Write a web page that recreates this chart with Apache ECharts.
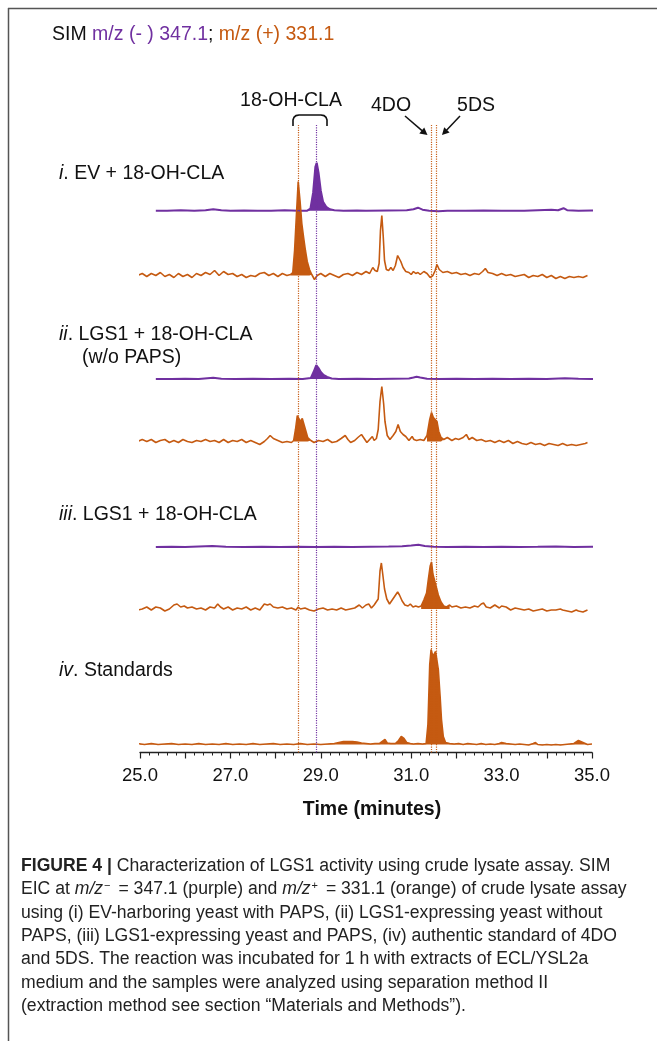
<!DOCTYPE html>
<html><head><meta charset="utf-8">
<script src="https://cdn.jsdelivr.net/npm/echarts@6/dist/echarts.min.js"></script>
<style>html,body{margin:0;padding:0;background:#fff}#c{width:657px;height:1041px}</style>
</head><body><div id="c"></div>
<script>
// ---------------- DATA ----------------
const timeTicks = [25.0, 27.0, 29.0, 31.0, 33.0, 35.0];
const markerTimes = [28.5, 28.9, 31.45, 31.55];   // 18-OH-CLA (+), 18-OH-CLA (-), 4DO, 5DS
const traceLabels = ['i. EV + 18-OH-CLA', 'ii. LGS1 + 18-OH-CLA', '(w/o PAPS)', 'iii. LGS1 + 18-OH-CLA', 'iv. Standards'];
const compoundLabels = ['18-OH-CLA', '4DO', '5DS'];

// [time (min), relative intensity]
const purpleI = [[25.35,0],[25.6,0],[25.9,0.5],[26.2,0],[26.45,0.5],[26.62,1.5],[26.8,0.5],[27.0,0],[27.3,0.3],[27.6,0],[27.9,0],[28.2,0.5],[28.5,0],[28.7,0],[28.77,2],[28.83,18],[28.88,44],[28.91,48],[28.95,38],[29.0,20],[29.05,9],[29.12,4],[29.2,1.5],[29.3,0.5],[29.5,0],[29.8,0.3],[30.0,0],[30.5,0.3],[30.9,0.5],[31.05,1.5],[31.15,3],[31.25,1],[31.4,0],[31.6,-0.5],[31.8,0],[32.2,0],[32.6,0.3],[33.0,0],[33.5,0],[33.8,0.5],[34.1,1],[34.25,0.5],[34.37,2.5],[34.45,0.5],[34.7,0],[35.0,0.3],[35.34,0]];
const orangeI = [[24.95,0],[25.05,2],[25.15,-1],[25.25,2],[25.35,0],[25.45,3],[25.55,-1],[25.65,1],[25.75,-2],[25.85,2],[25.95,-1],[26.05,1],[26.15,-2],[26.25,2],[26.35,0],[26.45,3],[26.55,1],[26.65,5],[26.75,0],[26.85,4],[26.95,1],[27.05,2],[27.15,-1],[27.25,1],[27.35,-2],[27.45,0],[27.55,-1],[27.65,2],[27.75,3],[27.85,0],[27.95,2],[28.05,-1],[28.15,2],[28.25,0],[28.33,1],[28.38,3],[28.42,25],[28.46,60],[28.5,94],[28.54,75],[28.58,52],[28.62,38],[28.66,25],[28.7,14],[28.75,6],[28.8,1],[28.86,-4],[28.92,0],[29.0,2],[29.1,-1],[29.2,2],[29.3,0],[29.4,-2],[29.5,1],[29.6,2],[29.7,0],[29.8,3],[29.9,1],[30.0,4],[30.08,2],[30.15,8],[30.2,5],[30.25,4],[30.29,12],[30.32,45],[30.35,60],[30.38,40],[30.41,15],[30.45,6],[30.5,5],[30.55,8],[30.6,5],[30.65,10],[30.7,20],[30.73,21],[30.77,14],[30.82,8],[30.88,4],[30.95,3],[31.0,1],[31.05,4],[31.1,2],[31.15,3],[31.2,1],[31.28,4],[31.35,2],[31.42,-2],[31.48,0],[31.53,5],[31.57,11],[31.62,6],[31.7,3],[31.8,4],[31.9,2],[32.0,3],[32.1,1],[32.2,2],[32.3,0],[32.4,2],[32.5,1],[32.58,4],[32.64,7],[32.7,3],[32.8,2],[32.9,0],[33.0,2],[33.1,0],[33.2,1],[33.3,-1],[33.4,0],[33.5,1],[33.6,-2],[33.7,0],[33.8,-1],[33.9,1],[34.0,-2],[34.1,0],[34.2,-3],[34.3,-1],[34.4,-3],[34.5,-1],[34.6,-2],[34.7,-1],[34.8,-2],[34.9,0]];
const purpleII = [[25.35,0],[25.7,0],[26.0,0.3],[26.3,0],[26.62,1.3],[26.8,0.3],[27.1,0],[27.5,0.2],[27.9,0],[28.3,0.3],[28.6,0],[28.78,1],[28.84,7],[28.9,14],[28.95,11],[29.0,7],[29.06,4],[29.14,2],[29.24,0.5],[29.4,0],[29.8,0.2],[30.2,0],[30.6,0.3],[30.95,0.5],[31.05,1.5],[31.12,2.3],[31.2,1.5],[31.35,0.3],[31.6,0],[32.0,0.3],[32.4,0],[32.8,0.2],[33.2,0],[33.6,0.3],[34.0,0],[34.4,0.8],[34.7,0.2],[35.0,0],[35.34,0]];
const orangeII = [[24.95,0],[25.05,2],[25.15,0],[25.25,2],[25.35,-1],[25.45,1],[25.55,2],[25.65,-1],[25.75,1],[25.85,-1],[25.95,2],[26.05,0],[26.15,-1],[26.25,1],[26.35,0],[26.45,2],[26.55,0],[26.65,1],[26.75,-1],[26.85,2],[26.95,-1],[27.05,1],[27.15,0],[27.25,2],[27.35,-1],[27.45,1],[27.55,-1],[27.65,-3],[27.75,0],[27.82,3],[27.88,6],[27.95,3],[28.05,1],[28.15,-1],[28.25,0],[28.35,-1],[28.4,1],[28.44,12],[28.48,26],[28.51,28],[28.55,20],[28.59,23],[28.62,22],[28.66,12],[28.71,4],[28.78,1],[28.85,-1],[28.95,1],[29.05,0],[29.15,2],[29.25,-1],[29.35,0],[29.45,3],[29.54,6],[29.6,2],[29.66,-1],[29.75,1],[29.82,4],[29.9,7],[29.96,3],[30.02,-1],[30.08,2],[30.14,5],[30.18,1],[30.23,3],[30.27,12],[30.31,40],[30.35,55],[30.39,38],[30.42,20],[30.47,6],[30.53,2],[30.6,6],[30.66,10],[30.71,17],[30.76,10],[30.82,7],[30.88,5],[30.95,1],[31.02,5],[31.06,2],[31.12,1],[31.2,2],[31.28,1],[31.35,6],[31.41,22],[31.45,29],[31.49,24],[31.53,23],[31.57,20],[31.61,10],[31.66,4],[31.72,2],[31.8,4],[31.9,1],[31.98,3],[32.05,2],[32.15,4],[32.22,7],[32.28,2],[32.35,4],[32.45,1],[32.55,2],[32.65,0],[32.75,1],[32.85,-1],[32.95,1],[33.05,-1],[33.15,1],[33.25,-2],[33.35,0],[33.45,-2],[33.55,-3],[33.65,-1],[33.75,-3],[33.85,-2],[33.95,-4],[34.05,-2],[34.15,-3],[34.25,-4],[34.35,-2],[34.45,-4],[34.55,-3],[34.65,-4],[34.75,-3],[34.85,-2],[34.9,-1]];
const purpleIII = [[25.35,0],[25.7,0.3],[26.0,0],[26.3,0.5],[26.6,1],[26.9,0.3],[27.3,0],[27.7,0.2],[28.1,0],[28.5,0.3],[28.9,0],[29.3,0.2],[29.7,0],[30.1,0.3],[30.5,0.5],[30.8,0.8],[31.0,1.5],[31.16,2.3],[31.3,1],[31.5,0.3],[31.8,0],[32.2,0.2],[32.6,0],[33.0,0.3],[33.4,0],[33.8,0.2],[34.2,0.5],[34.6,0],[35.0,0.2],[35.34,0]];
const orangeIII = [[24.95,-1],[25.05,0],[25.15,2],[25.25,-1],[25.35,2],[25.45,1],[25.55,-2],[25.65,0],[25.75,4],[25.82,5],[25.9,2],[25.98,3],[26.05,1],[26.15,2],[26.25,0],[26.35,1],[26.45,-1],[26.55,2],[26.65,1],[26.72,5],[26.78,2],[26.85,0],[26.95,2],[27.05,-1],[27.15,1],[27.25,0],[27.35,2],[27.45,-1],[27.55,1],[27.65,-1],[27.75,5],[27.82,4],[27.88,5],[27.95,2],[28.05,1],[28.15,2],[28.25,0],[28.35,1],[28.45,-1],[28.5,2],[28.55,0],[28.65,1],[28.75,-1],[28.85,-2],[28.95,0],[29.05,1],[29.15,-1],[29.25,0],[29.35,-1],[29.45,1],[29.55,-1],[29.65,0],[29.75,1],[29.85,4],[29.92,1],[30.0,4],[30.06,5],[30.12,1],[30.18,4],[30.22,2],[30.27,10],[30.31,38],[30.34,46],[30.37,35],[30.41,20],[30.46,10],[30.52,5],[30.58,9],[30.64,13],[30.7,17],[30.74,14],[30.8,8],[30.86,4],[30.93,3],[30.98,5],[31.04,2],[31.1,3],[31.16,2],[31.22,3],[31.28,9],[31.34,16],[31.38,30],[31.42,43],[31.45,47],[31.48,35],[31.52,28],[31.56,21],[31.6,14],[31.66,7],[31.72,3],[31.78,2],[31.85,4],[31.9,2],[32.0,3],[32.1,1],[32.2,2],[32.3,1],[32.4,3],[32.48,2],[32.55,5],[32.6,6],[32.66,2],[32.75,1],[32.85,4],[32.95,1],[33.0,3],[33.1,2],[33.2,-1],[33.3,1],[33.4,0],[33.5,-1],[33.6,0],[33.7,-2],[33.8,-1],[33.9,0],[34.0,-2],[34.1,-1],[34.2,-1],[34.3,0],[34.35,-1],[34.45,-2],[34.55,-3],[34.65,-1],[34.7,-2],[34.8,-3],[34.9,-1]];
const orangeIV = [[24.95,1],[25.1,0],[25.25,1],[25.4,0],[25.55,0.5],[25.7,1],[25.85,0],[26.0,0.5],[26.15,0],[26.3,1],[26.45,0],[26.6,0.5],[26.75,0],[26.9,1],[27.05,0],[27.2,0.5],[27.35,0],[27.5,1],[27.65,0],[27.8,0.5],[27.95,1],[28.1,0],[28.25,0.5],[28.4,0],[28.55,1],[28.7,0],[28.85,0.5],[29.0,0],[29.15,0.5],[29.3,1],[29.4,2],[29.5,3],[29.6,3],[29.7,3],[29.8,2.5],[29.9,1.5],[30.0,1],[30.1,0.5],[30.2,1],[30.3,1],[30.36,3],[30.42,5],[30.47,1.5],[30.55,1],[30.65,1],[30.72,4],[30.78,8],[30.84,6],[30.9,2],[30.98,1],[31.05,0.5],[31.15,1],[31.25,0.5],[31.33,1],[31.37,20],[31.41,80],[31.44,95],[31.48,88],[31.51,87.5],[31.54,93],[31.57,92],[31.6,75],[31.64,48],[31.67,25],[31.71,8],[31.76,2],[31.85,1],[31.95,0.5],[32.05,1],[32.15,0],[32.25,1],[32.35,0.5],[32.45,0],[32.55,1],[32.65,0],[32.75,0.5],[32.85,0],[32.95,1],[33.0,2],[33.04,3.5],[33.1,1],[33.2,0.5],[33.3,0],[33.4,0.5],[33.5,0],[33.6,-0.5],[33.7,1],[33.75,2],[33.8,0],[33.9,-0.5],[34.0,0],[34.1,-0.5],[34.2,0],[34.3,-0.5],[34.4,0],[34.5,0.5],[34.6,1],[34.7,4],[34.74,6],[34.8,2],[34.9,0],[35.0,0.5]];

// peak windows that are shaded
const fillPurpleI = [[28.7, 29.3]];
const fillOrangeI = [[28.33, 28.8]];
const fillPurpleII = [[28.7, 29.3]];
const fillOrangeII = [[28.4, 28.78], [31.35, 31.72]];
const fillPurpleIII = [];
const fillOrangeIII = [[31.22, 31.85]];
const fillOrangeIV = [[24.9, 35.1]];

// ---------------- STYLE / LAYOUT ----------------
const PURPLE = '#7030A0', ORANGE = '#C55A11';
const FONT = '"Liberation Sans", Arial, Helvetica, sans-serif';
const PLOT_LEFT = 140, PLOT_W = 452;

const traces = [
  {data: purpleI,  fills: fillPurpleI,  color: PURPLE, base: 210.7, w: 2},
  {data: orangeI,  fills: fillOrangeI,  color: ORANGE, base: 275.5, w: 1.6},
  {data: purpleII, fills: fillPurpleII, color: PURPLE, base: 379,   w: 2},
  {data: orangeII, fills: fillOrangeII, color: ORANGE, base: 441.5, w: 1.6},
  {data: purpleIII,fills: fillPurpleIII,color: PURPLE, base: 547,   w: 2},
  {data: orangeIII,fills: fillOrangeIII,color: ORANGE, base: 609,   w: 1.6},
  {data: orangeIV, fills: fillOrangeIV, color: ORANGE, base: 744.5, w: 1.6}
];
const markerColors = [ORANGE, PURPLE, ORANGE, ORANGE];

const grids = [{left: PLOT_LEFT, width: PLOT_W, top: 125, height: 627.5}];
const xAxes = [{
  gridIndex: 0, type: 'value', min: 25, max: 35, interval: 1,
  axisLine: {show: true, onZero: false, lineStyle: {color: '#222', width: 1.3}},
  axisTick: {show: true, length: 6, lineStyle: {color: '#222', width: 1.2}},
  minorTick: {show: true, splitNumber: 5, length: 3, lineStyle: {color: '#222', width: 1}},
  splitLine: {show: false}, minorSplitLine: {show: false},
  axisLabel: {margin: 14, fontSize: 18.5, color: '#111', fontFamily: FONT,
    formatter: v => timeTicks.some(t => Math.abs(t - v) < 1e-6) ? v.toFixed(1) : ''}
}];
const yAxes = [{gridIndex: 0, type: 'value', min: 0, max: 1, show: false}];
const series = [{
  type: 'line', xAxisIndex: 0, yAxisIndex: 0, data: [[25, -5]], symbol: 'none', silent: true,
  lineStyle: {opacity: 0}, z: 1,
  markLine: {symbol: ['none', 'none'], silent: true, animation: false, label: {show: false},
    data: markerTimes.map((t, i) => ({xAxis: t, lineStyle: {color: markerColors[i], type: 'dotted', width: 1.2, opacity: 0.95}}))}
}];

traces.forEach((tr, k) => {
  const gi = k + 1;
  grids.push({left: PLOT_LEFT, width: PLOT_W, top: tr.base - 100, height: 110});
  xAxes.push({gridIndex: gi, type: 'value', min: 25, max: 35, show: false});
  yAxes.push({gridIndex: gi, type: 'value', min: -10, max: 100, show: false});
  tr.fills.forEach(r => {
    series.push({type: 'line', xAxisIndex: gi, yAxisIndex: gi, clip: false, silent: true, symbol: 'none',
      data: tr.data.filter(p => p[0] >= r[0] && p[0] <= r[1]),
      lineStyle: {width: 0}, areaStyle: {color: tr.color, opacity: 1, origin: 0}, z: 2});
  });
  series.push({type: 'line', xAxisIndex: gi, yAxisIndex: gi, clip: false, silent: true, symbol: 'none',
    data: tr.data, lineStyle: {color: tr.color, width: tr.w}, z: 3});
});

function rt(txt, x, y, size, extra, color) {
  const col = color || '#111';
  const base = {fontSize: size, fontFamily: FONT, fill: col};
  return {type: 'text', silent: true, z: 10, style: Object.assign({
    text: txt, x: x, y: y, font: size + 'px ' + FONT, fill: col, textVerticalAlign: 'middle',
    rich: {
      i: Object.assign({}, base, {fontStyle: 'italic'}),
      b: Object.assign({}, base, {fontWeight: 'bold'}),
      p: Object.assign({}, base, {fill: PURPLE}),
      o: Object.assign({}, base, {fill: ORANGE}),
      s: {fontSize: 11, fontFamily: FONT, fill: col, verticalAlign: 'top', padding: [0, 3, 6, 1]}
    }
  }, extra || {})};
}

const capSize = 17.6, capX = 21, capY0 = 866, capDy = 23.4;
const captionLines = [
  '{b|FIGURE 4 |} Characterization of LGS1 activity using crude lysate assay. SIM',
  'EIC at {i|m/z}{s|−} = 347.1 (purple) and {i|m/z}{s|+} = 331.1 (orange) of crude lysate assay',
  'using (i) EV-harboring yeast with PAPS, (ii) LGS1-expressing yeast without',
  'PAPS, (iii) LGS1-expressing yeast and PAPS, (iv) authentic standard of 4DO',
  'and 5DS. The reaction was incubated for 1 h with extracts of ECL/YSL2a',
  'medium and the samples were analyzed using separation method II',
  '(extraction method see section \u201cMaterials and Methods\u201d).'
];

const graphic = [
  {type: 'line', silent: true, shape: {x1: 8, y1: 8.5, x2: 657, y2: 8.5}, style: {stroke: '#555', lineWidth: 1.5}},
  {type: 'line', silent: true, shape: {x1: 8.5, y1: 8, x2: 8.5, y2: 1041}, style: {stroke: '#555', lineWidth: 1.5}},
  rt('SIM {p|m/z (- ) 347.1}; {o|m/z (+) 331.1}', 52, 35, 19.5),
  rt(compoundLabels[0], 291, 101, 19.5, {textAlign: 'center'}),
  rt(compoundLabels[1], 391, 106, 19.5, {textAlign: 'center'}),
  rt(compoundLabels[2], 476, 106, 19.5, {textAlign: 'center'}),
  {type: 'polyline', silent: true, shape: {points: [[293,126],[293,120],[294,117.3],[296,115.6],[299,115],[321,115],[324,115.6],[326,117.3],[327,120],[327,126]]},
    style: {stroke: '#111', lineWidth: 1.6, fill: null}},
  {type: 'line', silent: true, shape: {x1: 405, y1: 116, x2: 422, y2: 130.6}, style: {stroke: '#111', lineWidth: 1.5}},
  {type: 'polygon', silent: true, shape: {points: [[427.5,135],[419.3,133.4],[424.2,127.6]]}, style: {fill: '#111'}},
  {type: 'line', silent: true, shape: {x1: 460, y1: 116, x2: 446.5, y2: 130.3}, style: {stroke: '#111', lineWidth: 1.5}},
  {type: 'polygon', silent: true, shape: {points: [[442,135],[444.2,127.3],[449.6,132.4]]}, style: {fill: '#111'}},
  rt('{i|i}. EV + 18-OH-CLA', 59, 174, 19.5),
  rt('{i|ii}. LGS1 + 18-OH-CLA', 59, 335, 19.5),
  rt(traceLabels[2], 82, 358, 19.5),
  rt('{i|iii}. LGS1 + 18-OH-CLA', 59, 515, 19.5),
  rt('{i|iv}. Standards', 59, 671, 19.5),
  rt('{b|Time (minutes)}', 372, 810, 19.5, {textAlign: 'center'})
];
captionLines.forEach((l, i) => graphic.push(rt(l, capX, capY0 + i * capDy, capSize, null, '#222')));

const chart = echarts.init(document.getElementById('c'), null, {renderer: 'canvas'});
chart.setOption({
  backgroundColor: '#fff', animation: false,
  grid: grids, xAxis: xAxes, yAxis: yAxes, series: series, graphic: graphic
});
</script></body></html>
